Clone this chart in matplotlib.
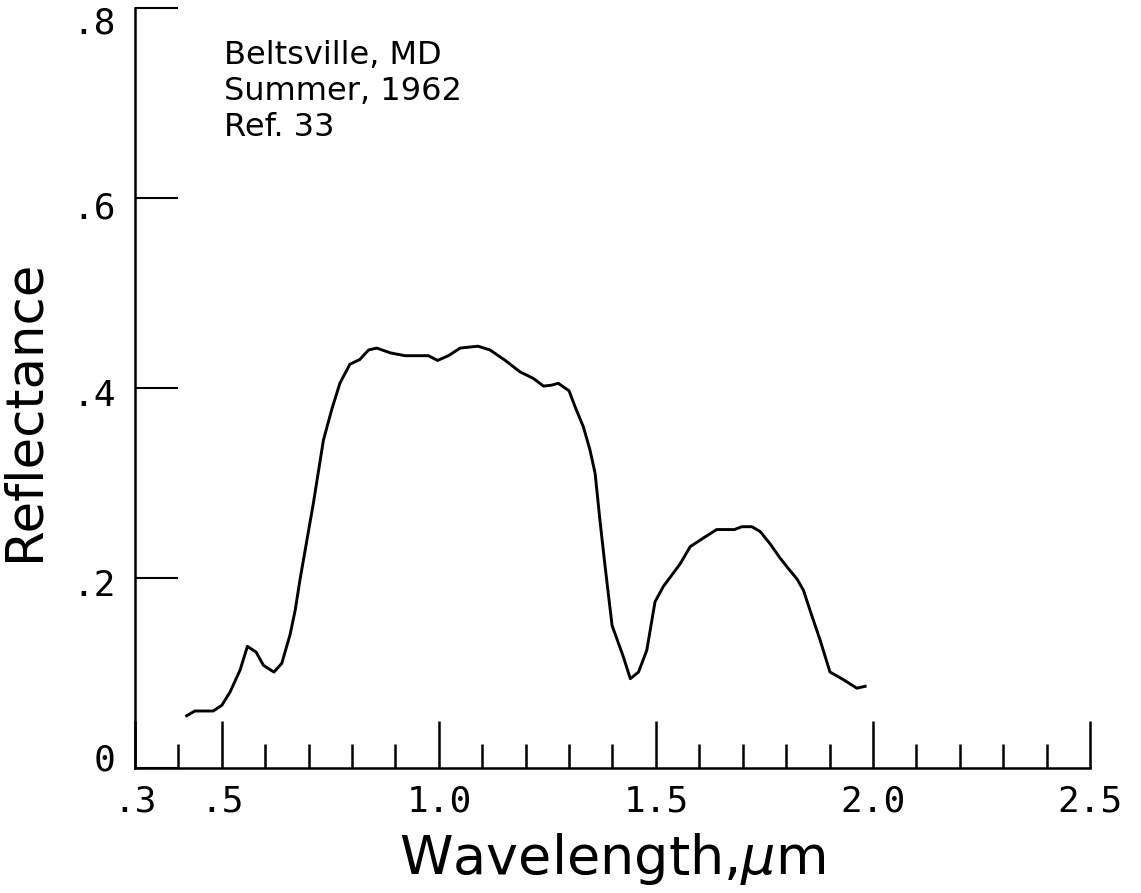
import matplotlib
matplotlib.use("Agg")
import matplotlib.pyplot as plt
import matplotlib.transforms as mtransforms
from matplotlib.ticker import FixedLocator

# Spectral reflectance, Beltsville MD, summer 1962
wavelength = [0.419, 0.438, 0.480, 0.500, 0.519, 0.542, 0.559, 0.579, 0.596,
              0.620, 0.638, 0.657, 0.669, 0.680, 0.711, 0.734, 0.753, 0.772,
              0.795, 0.818, 0.838, 0.857, 0.888, 0.922, 0.976, 0.997, 1.022,
              1.049, 1.090, 1.118, 1.153, 1.187, 1.218, 1.241, 1.260, 1.275,
              1.300, 1.314, 1.333, 1.348, 1.360, 1.371, 1.383, 1.399, 1.425,
              1.441, 1.460, 1.479, 1.498, 1.517, 1.556, 1.579, 1.609, 1.640,
              1.681, 1.698, 1.721, 1.740, 1.763, 1.786, 1.805, 1.825, 1.840,
              1.855, 1.878, 1.901, 1.932, 1.963, 1.982]
reflectance = [0.055, 0.060, 0.060, 0.066, 0.080, 0.103, 0.128, 0.122, 0.108,
               0.101, 0.110, 0.140, 0.166, 0.198, 0.279, 0.345, 0.377, 0.405,
               0.425, 0.430, 0.440, 0.442, 0.437, 0.434, 0.434, 0.429, 0.434,
               0.442, 0.444, 0.440, 0.429, 0.417, 0.410, 0.402, 0.403, 0.405,
               0.397, 0.380, 0.359, 0.335, 0.310, 0.261, 0.212, 0.150, 0.117,
               0.094, 0.101, 0.124, 0.175, 0.191, 0.215, 0.233, 0.242, 0.251,
               0.251, 0.254, 0.254, 0.249, 0.236, 0.221, 0.210, 0.199, 0.187,
               0.166, 0.135, 0.101, 0.093, 0.084, 0.086]

x_major = [0.3, 0.5, 1.0, 1.5, 2.0, 2.5]
x_major_labels = [".3", ".5", "1.0", "1.5", "2.0", "2.5"]
x_minor = [0.4, 0.6, 0.7, 0.8, 0.9, 1.1, 1.2, 1.3, 1.4, 1.6, 1.7, 1.8, 1.9,
           2.1, 2.2, 2.3, 2.4]
y_ticks = [0.0, 0.2, 0.4, 0.6, 0.8]
y_labels = ["0", ".2", ".4", ".6", ".8"]
site_note = "Beltsville, MD\nSummer, 1962\nRef. 33"

fig = plt.figure(figsize=(11.41, 8.93), dpi=100)
ax = fig.add_axes([135 / 1141, 125 / 893, 955 / 1141, 760 / 893])

ax.plot(wavelength, reflectance, color="black", lw=2.1, solid_joinstyle="round")

ax.set_xlim(0.3, 2.5)
ax.set_ylim(0.0, 0.8)

for side in ("top", "right"):
    ax.spines[side].set_visible(False)
for side in ("left", "bottom"):
    ax.spines[side].set_linewidth(1.8)

ax.xaxis.set_major_locator(FixedLocator(x_major))
ax.xaxis.set_minor_locator(FixedLocator(x_minor))
ax.set_xticklabels(x_major_labels, family="DejaVu Sans Mono", fontsize=26)
ax.set_yticks(y_ticks)
ax.set_yticklabels(y_labels, family="DejaVu Sans Mono", fontsize=26)

ax.tick_params(axis="x", which="major", direction="in", length=34, width=1.8,
               pad=12)
ax.tick_params(axis="x", which="minor", direction="in", length=17, width=1.8)
ax.tick_params(axis="y", which="major", direction="in", length=31, width=1.5,
               pad=14)

# nudge the y tick labels slightly below their ticks (the top one most)
for lab, dy in zip(ax.get_yticklabels(), [11, -5, -5, -7, -12]):
    lab.set_transform(lab.get_transform() +
                      mtransforms.ScaledTranslation(0, dy / 100, fig.dpi_scale_trans))

ax.set_xlabel("Wavelength,$\\mu$m", fontsize=39)
ax.xaxis.set_label_coords(0.5, -0.157)
ax.xaxis.label.set_va("bottom")
ax.set_ylabel("Reflectance", fontsize=37)
ax.yaxis.set_label_coords(-0.090, 0.471)

ax.text(0.505, 0.766, site_note, fontsize=23, family="DejaVu Sans",
        va="top", ha="left", linespacing=1.2, transform=ax.transData)

fig.savefig("out.png", dpi=100)
